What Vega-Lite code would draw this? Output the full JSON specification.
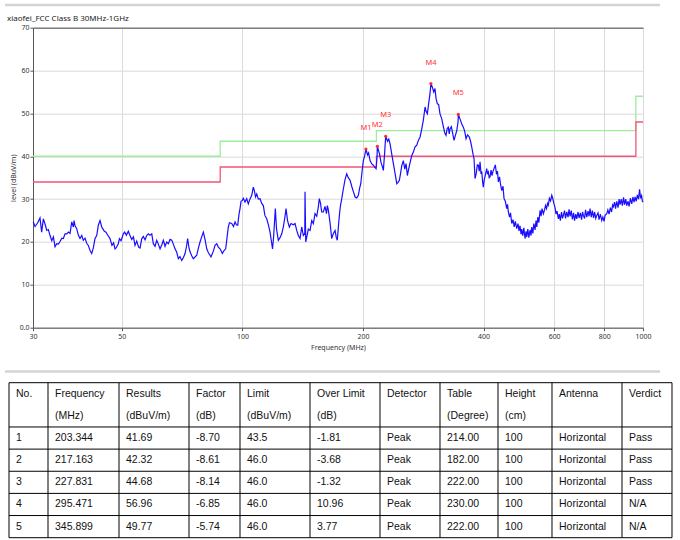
{
  "$schema": "https://vega.github.io/schema/vega-lite/v6.json",
  "background": "white",
  "padding": {"left": 3, "top": 2.7, "right": 0, "bottom": 0},
  "bounds": "flush",
  "spacing": 55,
  "config": {
    "view": {"stroke": "#d0d0d0"},
    "axis": {"labelFont": "Noto Sans", "titleFont": "Noto Sans", "labelFontSize": 7, "titleFontSize": 7, "titleFontWeight": "normal", "labelColor": "#333", "titleColor": "#333", "domainColor": "#555", "tickColor": "#555", "tickSize": 3, "gridColor": "#dadada"}
  },
  "datasets": {
    "limits": [
      {"limit": "QP", "f": 30, "v": 40}, {"limit": "QP", "f": 88, "v": 43.5}, {"limit": "QP", "f": 216, "v": 46}, {"limit": "QP", "f": 960, "v": 54}, {"limit": "QP", "f": 1000, "v": 54},
      {"limit": "AV", "f": 30, "v": 34}, {"limit": "AV", "f": 88, "v": 37.5}, {"limit": "AV", "f": 216, "v": 40}, {"limit": "AV", "f": 960, "v": 48}, {"limit": "AV", "f": 1000, "v": 48}
    ],
    "markers": [
      {"m": "M1", "f": 203.344, "v": 41.69}, {"m": "M2", "f": 217.163, "v": 42.32}, {"m": "M3", "f": 227.831, "v": 44.68}, {"m": "M4", "f": 295.471, "v": 56.96}, {"m": "M5", "f": 345.899, "v": 49.77}
    ],
    "trace": [
      {"f":30.05,"v":24.7},{"f":30.35,"v":23.6},{"f":30.52,"v":23.9},{"f":30.87,"v":24.6},{"f":31.23,"v":25.6},{"f":31.53,"v":22.3},{"f":31.84,"v":25.4},{"f":32.14,"v":24.2},{"f":32.47,"v":22.7},{"f":32.77,"v":22.9},
      {"f":33.09,"v":21.5},{"f":33.42,"v":20.3},{"f":33.73,"v":21.2},{"f":34.05,"v":18.9},{"f":34.39,"v":19.6},{"f":34.71,"v":19.5},{"f":35.05,"v":20.1},{"f":35.40,"v":20.9},{"f":35.72,"v":20.8},{"f":36.07,"v":21.9},
      {"f":36.43,"v":21.9},{"f":36.76,"v":22.3},{"f":37.12,"v":22.0},{"f":37.48,"v":24.7},{"f":37.83,"v":23.5},{"f":37.98,"v":25.0},{"f":38.20,"v":23.8},{"f":38.57,"v":23.1},{"f":38.93,"v":21.6},{"f":39.31,"v":20.8},
      {"f":39.70,"v":21.5},{"f":40.06,"v":20.4},{"f":40.46,"v":20.9},{"f":40.85,"v":19.7},{"f":41.23,"v":19.2},{"f":41.64,"v":18.0},{"f":42.04,"v":17.3},{"f":42.43,"v":18.6},{"f":42.85,"v":20.8},{"f":43.27,"v":21.5},
      {"f":43.67,"v":23.9},{"f":44.10,"v":25.0},{"f":44.54,"v":23.5},{"f":44.79,"v":23.1},{"f":45.21,"v":22.5},{"f":45.65,"v":22.3},{"f":46.16,"v":21.5},{"f":46.71,"v":20.8},{"f":47.23,"v":19.2},{"f":47.67,"v":19.8},
      {"f":48.07,"v":18.4},{"f":48.36,"v":18.6},{"f":48.99,"v":19.6},{"f":49.30,"v":20.8},{"f":49.76,"v":20.3},{"f":50.42,"v":21.9},{"f":50.81,"v":22.3},{"f":51.32,"v":21.6},{"f":51.89,"v":22.5},{"f":52.29,"v":21.7},
      {"f":52.92,"v":20.6},{"f":53.44,"v":21.2},{"f":53.93,"v":19.2},{"f":54.46,"v":20.2},{"f":55.04,"v":18.8},{"f":55.50,"v":18.6},{"f":56.07,"v":20.8},{"f":56.57,"v":21.3},{"f":57.13,"v":20.5},{"f":57.68,"v":21.5},
      {"f":58.22,"v":21.9},{"f":58.77,"v":21.6},{"f":59.37,"v":21.9},{"f":59.91,"v":19.6},{"f":60.50,"v":19.0},{"f":61.10,"v":20.4},{"f":61.66,"v":19.5},{"f":62.27,"v":18.4},{"f":62.88,"v":19.3},{"f":63.46,"v":20.4},
      {"f":64.08,"v":19.0},{"f":64.71,"v":20.0},{"f":65.31,"v":19.6},{"f":65.95,"v":20.6},{"f":66.60,"v":20.4},{"f":67.21,"v":19.5},{"f":67.87,"v":18.4},{"f":68.54,"v":17.6},{"f":69.17,"v":16.1},{"f":69.82,"v":16.6},
      {"f":70.54,"v":15.7},{"f":71.19,"v":16.3},{"f":71.89,"v":17.3},{"f":72.52,"v":19.0},{"f":72.98,"v":20.8},{"f":73.55,"v":18.6},{"f":73.99,"v":17.7},{"f":74.70,"v":16.8},{"f":75.40,"v":16.1},{"f":76.15,"v":16.5},
      {"f":76.89,"v":16.9},{"f":77.60,"v":18.5},{"f":78.36,"v":20.0},{"f":79.12,"v":21.2},{"f":79.86,"v":22.3},{"f":80.65,"v":20.6},{"f":81.44,"v":18.4},{"f":82.24,"v":17.5},{"f":82.97,"v":16.9},{"f":83.45,"v":16.5},
      {"f":84.56,"v":17.8},{"f":85.43,"v":19.2},{"f":86.27,"v":19.6},{"f":87.06,"v":18.8},{"f":87.93,"v":18.4},{"f":89.09,"v":17.3},{"f":89.96,"v":18.0},{"f":90.82,"v":18.4},{"f":91.52,"v":21.0},{"f":92.21,"v":23.5},
      {"f":92.80,"v":24.5},{"f":94.03,"v":24.3},{"f":95.00,"v":23.6},{"f":95.83,"v":24.7},{"f":96.55,"v":24.0},{"f":97.32,"v":23.9},{"f":98.05,"v":26.5},{"f":98.62,"v":27.8},{"f":99.18,"v":29.5},{"f":99.94,"v":29.7},
      {"f":100.51,"v":30.2},{"f":101.47,"v":29.3},{"f":102.48,"v":30.1},{"f":103.44,"v":28.9},{"f":104.39,"v":30.0},{"f":105.48,"v":30.9},{"f":106.44,"v":32.8},{"f":107.08,"v":32.0},{"f":107.80,"v":30.5},{"f":108.56,"v":31.2},
      {"f":109.56,"v":30.0},{"f":110.64,"v":30.1},{"f":111.72,"v":29.0},{"f":112.76,"v":28.5},{"f":113.78,"v":26.2},{"f":114.99,"v":25.4},{"f":116.23,"v":23.8},{"f":117.19,"v":22.3},{"f":118.20,"v":20.0},{"f":118.88,"v":18.4},
      {"f":119.57,"v":21.0},{"f":120.82,"v":27.8},{"f":121.65,"v":23.0},{"f":122.92,"v":20.4},{"f":124.12,"v":21.0},{"f":125.34,"v":21.9},{"f":126.50,"v":23.5},{"f":127.74,"v":26.0},{"f":128.48,"v":27.8},{"f":129.59,"v":25.0},
      {"f":130.94,"v":23.5},{"f":132.23,"v":24.3},{"f":133.98,"v":24.0},{"f":135.30,"v":24.3},{"f":136.63,"v":22.7},{"f":137.89,"v":21.5},{"f":139.25,"v":20.8},{"f":140.61,"v":23.5},{"f":141.91,"v":21.5},{"f":143.10,"v":22.0},
      {"f":143.30,"v":31.7},{"f":143.89,"v":20.0},{"f":144.97,"v":21.5},{"f":146.05,"v":23.0},{"f":147.48,"v":22.7},{"f":148.94,"v":25.0},{"f":150.31,"v":24.3},{"f":151.78,"v":26.6},{"f":153.27,"v":26.0},{"f":154.68,"v":28.2},
      {"f":155.57,"v":30.1},{"f":156.65,"v":29.0},{"f":157.74,"v":27.0},{"f":159.20,"v":27.0},{"f":160.74,"v":28.3},{"f":162.14,"v":26.6},{"f":162.89,"v":28.5},{"f":163.84,"v":27.5},{"f":165.44,"v":24.5},{"f":167.06,"v":20.8},
      {"f":168.65,"v":22.0},{"f":170.31,"v":22.7},{"f":171.51,"v":21.0},{"f":172.50,"v":20.4},{"f":173.57,"v":23.5},{"f":174.70,"v":26.5},{"f":175.70,"v":28.5},{"f":177.00,"v":30.1},{"f":178.56,"v":32.3},{"f":180.31,"v":34.5},
      {"f":182.08,"v":35.9},{"f":183.76,"v":35.0},{"f":185.65,"v":34.4},{"f":187.40,"v":33.0},{"f":189.12,"v":31.8},{"f":191.07,"v":30.5},{"f":192.86,"v":30.3},{"f":194.72,"v":30.9},{"f":196.07,"v":32.5},{"f":197.43,"v":33.6},
      {"f":198.92,"v":36.5},{"f":200.40,"v":39.0},{"f":202.03,"v":40.2},{"f":203.344,"v":41.69},{"f":205.31,"v":40.3},{"f":206.49,"v":40.8},{"f":208.27,"v":39.0},{"f":210.33,"v":38.2},{"f":212.26,"v":37.9},{"f":213.75,"v":37.5},
      {"f":215.58,"v":37.1},{"f":216.82,"v":40.0},{"f":217.163,"v":42.32},{"f":219.95,"v":40.5},{"f":221.86,"v":38.5},{"f":223.52,"v":37.6},{"f":224.81,"v":36.7},{"f":226.36,"v":40.5},{"f":227.831,"v":44.68},{"f":230.30,"v":43.5},
      {"f":231.90,"v":44.0},{"f":233.64,"v":42.9},{"f":235.93,"v":40.5},{"f":238.12,"v":38.3},{"f":240.46,"v":36.0},{"f":242.82,"v":33.6},{"f":244.63,"v":33.9},{"f":246.47,"v":34.4},{"f":248.18,"v":36.0},{"f":249.90,"v":37.8},
      {"f":252.20,"v":39.0},{"f":254.26,"v":37.0},{"f":256.15,"v":38.3},{"f":258.08,"v":35.5},{"f":259.56,"v":36.7},{"f":262.13,"v":38.5},{"f":264.69,"v":40.2},{"f":267.14,"v":41.0},{"f":269.76,"v":42.2},{"f":272.42,"v":42.6},
      {"f":274.93,"v":43.7},{"f":277.62,"v":44.5},{"f":280.36,"v":46.4},{"f":282.95,"v":48.5},{"f":285.73,"v":51.5},{"f":287.38,"v":50.5},{"f":289.53,"v":49.9},{"f":291.88,"v":52.5},{"f":293.90,"v":54.6},{"f":295.471,"v":56.96},
      {"f":298.20,"v":56.0},{"f":300.27,"v":55.0},{"f":302.50,"v":55.8},{"f":304.27,"v":53.5},{"f":306.50,"v":52.3},{"f":309.03,"v":52.0},{"f":311.30,"v":49.9},{"f":314.41,"v":48.8},{"f":317.30,"v":47.0},{"f":319.88,"v":45.5},
      {"f":322.30,"v":44.9},{"f":324.52,"v":46.5},{"f":326.60,"v":46.8},{"f":328.29,"v":45.2},{"f":329.80,"v":46.4},{"f":332.28,"v":46.9},{"f":334.97,"v":45.3},{"f":337.50,"v":43.7},{"f":340.03,"v":44.8},{"f":342.80,"v":46.0},
      {"f":345.36,"v":48.0},{"f":345.899,"v":49.77},{"f":349.95,"v":48.5},{"f":352.80,"v":47.5},{"f":356.00,"v":46.8},{"f":358.89,"v":45.8},{"f":361.60,"v":44.1},{"f":364.74,"v":45.0},{"f":368.50,"v":44.5},{"f":371.07,"v":43.5},
      {"f":373.60,"v":42.2},{"f":376.44,"v":40.5},{"f":378.60,"v":39.4},{"f":380.80,"v":34.8},{"f":383.43,"v":36.0},{"f":385.86,"v":38.0},{"f":388.10,"v":37.9},{"f":390.09,"v":36.5},{"f":391.90,"v":38.7},{"f":394.14,"v":35.9},
      {"f":395.70,"v":36.5},{"f":397.77,"v":34.0},{"f":399.40,"v":32.8},{"f":401.43,"v":34.5},{"f":403.75,"v":35.5},{"f":407.30,"v":37.1},{"f":409.11,"v":35.8},{"f":411.00,"v":36.3},{"f":413.13,"v":35.0},{"f":415.10,"v":35.2},
      {"f":417.42,"v":36.8},{"f":419.82,"v":35.5},{"f":421.60,"v":36.3},{"f":424.20,"v":37.0},{"f":427.90,"v":38.0},{"f":430.83,"v":35.8},{"f":433.32,"v":36.5},{"f":435.40,"v":34.0},{"f":438.33,"v":35.2},{"f":440.85,"v":33.5},
      {"f":444.00,"v":32.0},{"f":447.24,"v":33.0},{"f":449.90,"v":30.1},{"f":453.21,"v":29.5},{"f":456.90,"v":27.8},{"f":458.97,"v":28.8},{"f":461.20,"v":27.0},{"f":464.30,"v":25.8},{"f":466.98,"v":26.8},{"f":470.30,"v":24.3},
      {"f":473.73,"v":25.2},{"f":477.00,"v":23.5},{"f":480.03,"v":24.8},{"f":484.00,"v":23.1},{"f":487.55,"v":24.3},{"f":490.38,"v":22.6},{"f":493.20,"v":23.8},{"f":496.05,"v":21.8},{"f":498.10,"v":23.0},{"f":500.91,"v":21.5},
      {"f":504.09,"v":23.3},{"f":507.60,"v":20.8},{"f":510.51,"v":22.5},{"f":512.60,"v":21.2},{"f":515.82,"v":23.0},{"f":518.79,"v":21.0},{"f":522.39,"v":22.8},{"f":525.42,"v":21.5},{"f":527.60,"v":23.5},{"f":530.88,"v":22.0},
      {"f":533.94,"v":24.3},{"f":537.63,"v":22.8},{"f":540.75,"v":25.0},{"f":543.00,"v":23.5},{"f":546.36,"v":25.8},{"f":549.51,"v":24.5},{"f":553.40,"v":27.4},{"f":556.50,"v":26.0},{"f":559.71,"v":27.8},{"f":564.00,"v":26.6},
      {"f":567.81,"v":27.5},{"f":571.08,"v":28.5},{"f":574.38,"v":27.8},{"f":577.68,"v":29.0},{"f":580.40,"v":28.6},{"f":583.68,"v":30.2},{"f":587.73,"v":29.6},{"f":591.90,"v":30.9},{"f":595.20,"v":30.2},{"f":598.98,"v":29.0},
      {"f":603.20,"v":28.0},{"f":606.60,"v":26.5},{"f":610.11,"v":27.2},{"f":614.80,"v":25.4},{"f":618.24,"v":26.5},{"f":621.81,"v":25.0},{"f":626.10,"v":27.0},{"f":629.73,"v":25.5},{"f":632.70,"v":26.2},{"f":636.99,"v":27.3},
      {"f":640.68,"v":25.5},{"f":645.12,"v":27.0},{"f":649.95,"v":25.8},{"f":653.70,"v":27.6},{"f":657.50,"v":26.0},{"f":662.10,"v":27.3},{"f":666.30,"v":25.3},{"f":670.92,"v":26.8},{"f":674.79,"v":25.0},{"f":679.44,"v":26.5},
      {"f":683.40,"v":25.4},{"f":688.50,"v":27.0},{"f":692.46,"v":25.6},{"f":697.65,"v":26.8},{"f":702.48,"v":25.2},{"f":706.53,"v":27.0},{"f":709.70,"v":26.2},{"f":714.69,"v":25.5},{"f":718.80,"v":27.5},{"f":723.78,"v":25.8},
      {"f":729.21,"v":27.2},{"f":733.41,"v":26.0},{"f":737.60,"v":27.8},{"f":742.74,"v":25.8},{"f":747.45,"v":27.3},{"f":752.61,"v":25.6},{"f":756.96,"v":27.0},{"f":762.21,"v":25.5},{"f":766.60,"v":26.2},{"f":772.35,"v":26.8},
      {"f":776.82,"v":25.2},{"f":782.64,"v":26.5},{"f":788.90,"v":25.0},{"f":793.98,"v":25.8},{"f":799.47,"v":24.8},{"f":804.09,"v":26.2},{"f":812.00,"v":26.6},{"f":817.14,"v":27.5},{"f":822.78,"v":26.5},{"f":828.96,"v":28.0},
      {"f":834.72,"v":27.0},{"f":839.52,"v":28.6},{"f":843.40,"v":28.2},{"f":849.21,"v":29.3},{"f":854.10,"v":27.8},{"f":860.01,"v":29.5},{"f":866.46,"v":28.0},{"f":871.47,"v":30.0},{"f":876.40,"v":28.7},{"f":882.57,"v":30.0},
      {"f":888.18,"v":28.5},{"f":894.33,"v":30.4},{"f":899.49,"v":28.7},{"f":905.73,"v":30.0},{"f":910.80,"v":28.5},{"f":917.79,"v":29.5},{"f":923.10,"v":28.3},{"f":930.03,"v":30.2},{"f":937.40,"v":28.9},{"f":943.47,"v":30.5},
      {"f":950.01,"v":29.3},{"f":955.47,"v":30.5},{"f":962.10,"v":29.5},{"f":968.22,"v":31.0},{"f":974.91,"v":30.0},{"f":980.55,"v":32.3},{"f":986.22,"v":30.2},{"f":991.92,"v":30.8},{"f":996.51,"v":29.5},{"f":1000,"v":29.3}
    ],
    "cols": [
      {"c": 0, "left": 0}, {"c": 1, "left": 39}, {"c": 2, "left": 110}, {"c": 3, "left": 180}, {"c": 4, "left": 231}, {"c": 5, "left": 301},
      {"c": 6, "left": 371}, {"c": 7, "left": 431}, {"c": 8, "left": 489}, {"c": 9, "left": 543}, {"c": 10, "left": 613}, {"c": 11, "left": 663}
    ],
    "hlines": [{"s": 0}, {"s": 2}, {"s": 3}, {"s": 4}, {"s": 5}, {"s": 6}, {"s": 7}],
    "bars": [{"s": -0.5}, {"s": -17.06}],
    "cells": [
      {"s": 0, "c": 0, "t": "No."},
      {"s": 0, "c": 1, "t": "Frequency"}, {"s": 1, "c": 1, "t": "(MHz)"},
      {"s": 0, "c": 2, "t": "Results"}, {"s": 1, "c": 2, "t": "(dBuV/m)"},
      {"s": 0, "c": 3, "t": "Factor"}, {"s": 1, "c": 3, "t": "(dB)"},
      {"s": 0, "c": 4, "t": "Limit"}, {"s": 1, "c": 4, "t": "(dBuV/m)"},
      {"s": 0, "c": 5, "t": "Over Limit"}, {"s": 1, "c": 5, "t": "(dB)"},
      {"s": 0, "c": 6, "t": "Detector"},
      {"s": 0, "c": 7, "t": "Table"}, {"s": 1, "c": 7, "t": "(Degree)"},
      {"s": 0, "c": 8, "t": "Height"}, {"s": 1, "c": 8, "t": "(cm)"},
      {"s": 0, "c": 9, "t": "Antenna"},
      {"s": 0, "c": 10, "t": "Verdict"},
      {"s": 2, "c": 0, "t": "1"}, {"s": 2, "c": 1, "t": "203.344"}, {"s": 2, "c": 2, "t": "41.69"}, {"s": 2, "c": 3, "t": "-8.70"}, {"s": 2, "c": 4, "t": "43.5"}, {"s": 2, "c": 5, "t": "-1.81"}, {"s": 2, "c": 6, "t": "Peak"}, {"s": 2, "c": 7, "t": "214.00"}, {"s": 2, "c": 8, "t": "100"}, {"s": 2, "c": 9, "t": "Horizontal"}, {"s": 2, "c": 10, "t": "Pass"},
      {"s": 3, "c": 0, "t": "2"}, {"s": 3, "c": 1, "t": "217.163"}, {"s": 3, "c": 2, "t": "42.32"}, {"s": 3, "c": 3, "t": "-8.61"}, {"s": 3, "c": 4, "t": "46.0"}, {"s": 3, "c": 5, "t": "-3.68"}, {"s": 3, "c": 6, "t": "Peak"}, {"s": 3, "c": 7, "t": "182.00"}, {"s": 3, "c": 8, "t": "100"}, {"s": 3, "c": 9, "t": "Horizontal"}, {"s": 3, "c": 10, "t": "Pass"},
      {"s": 4, "c": 0, "t": "3"}, {"s": 4, "c": 1, "t": "227.831"}, {"s": 4, "c": 2, "t": "44.68"}, {"s": 4, "c": 3, "t": "-8.14"}, {"s": 4, "c": 4, "t": "46.0"}, {"s": 4, "c": 5, "t": "-1.32"}, {"s": 4, "c": 6, "t": "Peak"}, {"s": 4, "c": 7, "t": "222.00"}, {"s": 4, "c": 8, "t": "100"}, {"s": 4, "c": 9, "t": "Horizontal"}, {"s": 4, "c": 10, "t": "Pass"},
      {"s": 5, "c": 0, "t": "4"}, {"s": 5, "c": 1, "t": "295.471"}, {"s": 5, "c": 2, "t": "56.96"}, {"s": 5, "c": 3, "t": "-6.85"}, {"s": 5, "c": 4, "t": "46.0"}, {"s": 5, "c": 5, "t": "10.96"}, {"s": 5, "c": 6, "t": "Peak"}, {"s": 5, "c": 7, "t": "230.00"}, {"s": 5, "c": 8, "t": "100"}, {"s": 5, "c": 9, "t": "Horizontal"}, {"s": 5, "c": 10, "t": "N/A"},
      {"s": 6, "c": 0, "t": "5"}, {"s": 6, "c": 1, "t": "345.899"}, {"s": 6, "c": 2, "t": "49.77"}, {"s": 6, "c": 3, "t": "-5.74"}, {"s": 6, "c": 4, "t": "46.0"}, {"s": 6, "c": 5, "t": "3.77"}, {"s": 6, "c": 6, "t": "Peak"}, {"s": 6, "c": 7, "t": "222.00"}, {"s": 6, "c": 8, "t": "100"}, {"s": 6, "c": 9, "t": "Horizontal"}, {"s": 6, "c": 10, "t": "N/A"}
    ]
  },
  "vconcat": [
    {
      "width": 610,
      "height": 300,
      "title": {"text": "xiaofei_FCC Class B 30MHz-1GHz", "anchor": "start", "frame": "group", "dx": -26, "offset": 1, "fontSize": 8, "fontWeight": "normal", "font": "Noto Sans", "color": "#222"},
      "resolve": {"axis": {"x": "independent"}},
      "layer": [
        {
          "data": {"name": "limits"},
          "mark": {"type": "line", "interpolate": "step-after", "strokeWidth": 1.3},
          "encoding": {
            "x": {"field": "f", "type": "quantitative", "scale": {"type": "log", "domain": [30, 1000], "nice": false},
                  "axis": {"values": [30, 50, 100, 200, 400, 600, 800, 1000], "format": "d", "title": "Frequency (MHz)", "grid": true, "labelFlush": false, "labelPadding": 2, "titlePadding": 4}},
            "y": {"field": "v", "type": "quantitative", "scale": {"domain": [0, 70], "nice": false},
                  "axis": {"values": [0, 10, 20, 30, 40, 50, 60, 70], "title": "level (dBuV/m)", "labelExpr": "datum.value == 0 ? '0.0' : datum.label", "grid": true, "labelPadding": 1, "titlePadding": 3}},
            "color": {"field": "limit", "type": "nominal", "scale": {"domain": ["QP", "AV"], "range": ["#9ded9d", "#f2557a"]}, "legend": null}
          }
        },
        {
          "data": {"name": "trace"},
          "mark": {"type": "line", "color": "#1a0dff", "strokeWidth": 1.2},
          "encoding": {
            "x": {"field": "f", "type": "quantitative", "axis": null},
            "y": {"field": "v", "type": "quantitative"}
          }
        },
        {
          "data": {"name": "markers"},
          "mark": {"type": "point", "filled": true, "color": "#ff2a2a", "size": 10, "opacity": 1},
          "encoding": {
            "x": {"field": "f", "type": "quantitative", "axis": {"orient": "top", "labels": false, "ticks": false, "grid": false, "title": null, "domainColor": "#555"}},
            "y": {"field": "v", "type": "quantitative"}
          }
        },
        {
          "data": {"name": "markers"},
          "mark": {"type": "text", "color": "#ff3333", "dy": -21, "fontSize": 7.5, "font": "Noto Sans"},
          "encoding": {
            "x": {"field": "f", "type": "quantitative", "axis": null},
            "y": {"field": "v", "type": "quantitative"},
            "text": {"field": "m"}
          }
        }
      ]
    },
    {
      "width": 640,
      "height": 155,
      "view": {"stroke": null},
      "layer": [
        {
          "data": {"name": "cols"},
          "mark": {"type": "rule", "color": "#000", "strokeWidth": 1},
          "encoding": {
            "x": {"field": "left", "type": "quantitative", "scale": {"domain": [24, 664], "nice": false, "zero": false}, "axis": null},
            "y": {"datum": 0, "type": "quantitative", "scale": {"domain": [0, 7], "reverse": true, "nice": false}, "axis": null},
            "y2": {"datum": 7}
          }
        },
        {
          "data": {"name": "hlines"},
          "mark": {"type": "rule", "color": "#000", "strokeWidth": 1},
          "encoding": {
            "x": {"datum": 0, "type": "quantitative"},
            "x2": {"datum": 663},
            "y": {"field": "s", "type": "quantitative"}
          }
        },
        {
          "data": {"name": "bars"},
          "mark": {"type": "rule", "color": "#d4d4d4", "strokeWidth": 2.5},
          "encoding": {
            "x": {"datum": -4, "type": "quantitative"},
            "x2": {"datum": 651},
            "y": {"field": "s", "type": "quantitative"}
          }
        },
        {
          "data": {"name": "cells"},
          "transform": [{"lookup": "c", "from": {"data": {"name": "cols"}, "key": "c", "fields": ["left"]}}],
          "mark": {"type": "text", "align": "left", "baseline": "middle", "dx": 7, "dy": 11, "font": "Liberation Sans", "fontSize": 10.5, "color": "#111"},
          "encoding": {
            "x": {"field": "left", "type": "quantitative"},
            "y": {"field": "s", "type": "quantitative"},
            "text": {"field": "t"}
          }
        }
      ]
    }
  ]
}
